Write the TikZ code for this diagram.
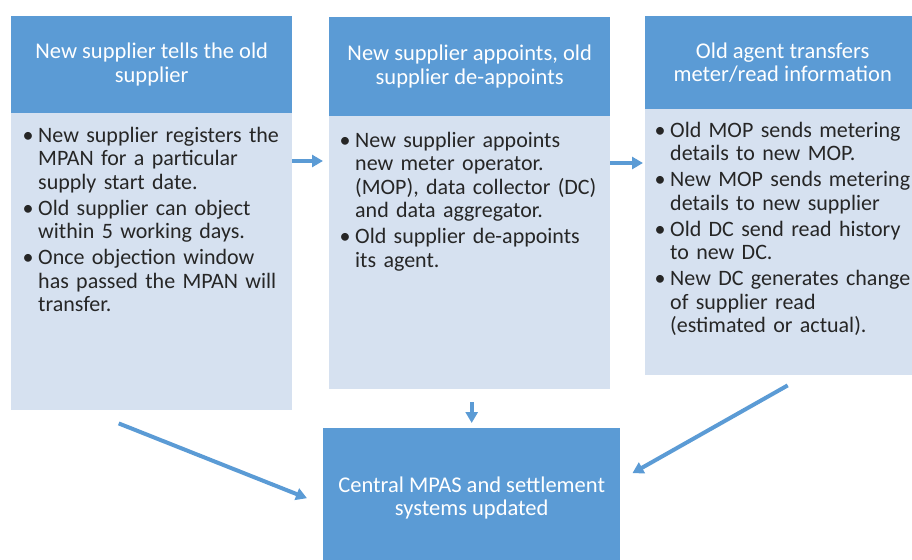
\documentclass[tikz,border=0pt]{standalone}
\usepackage{fontspec}
\setmainfont{Carlito}
\usetikzlibrary{arrows.meta}

\definecolor{headblue}{RGB}{91,155,213}
\definecolor{bodyblue}{RGB}{214,225,240}

\newcommand\bitem[1]{\par\noindent\hangindent=14pt\hangafter=1\makebox[14pt][l]{\hspace{-1.5pt}\textbullet}#1\par}

\tikzset{
    box/.style={rectangle, anchor=north west, inner sep=0pt},
    head/.style={box, fill=headblue, text=white, align=center,
        font=\fontsize{22.5}{23.5}\selectfont},
    body/.style={box, fill=bodyblue},
    bullets/.style={anchor=north west, inner sep=0pt, align=left, text=black!85,
        font=\fontsize{22}{23.5}\selectfont\setlength\parskip{2.5pt}},
    flow/.style={draw=headblue, line width=4pt, -{Triangle[length=11pt,width=12pt]}}
}

\begin{document}
\begin{tikzpicture}[x=1pt,y=-1pt]
    \useasboundingbox (0,0) rectangle (912,559);

    \node[head, minimum width=281pt, minimum height=97pt] (head1) at (11,16) {New supplier tells the old\\supplier};
    \node[body, minimum width=281pt, minimum height=297pt] (body1) at (11,113) {};
    \node[bullets, text width=300pt] (list1) at (24,116) {%
        \bitem{New supplier registers the\newline MPAN for a particular\newline supply start date.}
        \bitem{Old supplier can object\newline within 5 working days.}
        \bitem{Once objection window\newline has passed the MPAN will\newline transfer.}};

    \node[head, minimum width=281pt, minimum height=99pt] (head2) at (329,17) {New supplier appoints, old\\supplier de-appoints};
    \node[body, minimum width=281pt, minimum height=273pt] (body2) at (329,116) {};
    \node[bullets, text width=300pt] (list2) at (341,121) {%
        \bitem{New supplier appoints\newline new meter operator.\newline (MOP), data collector (DC)\newline and data aggregator.}
        \bitem{Old supplier de-appoints\newline its agent.}};

    \node[head, minimum width=275pt, minimum height=93pt] (head3) at (645,16) {Old agent transfers\\meter/read information};
    \node[body, minimum width=275pt, minimum height=266pt] (body3) at (645,109) {};
    \node[bullets, text width=300pt] (list3) at (656,111) {%
        \bitem{Old MOP sends metering\newline details to new MOP.}
        \bitem{New MOP sends metering\newline details to new supplier}
        \bitem{Old DC send read history\newline to new DC.}
        \bitem{New DC generates change\newline of supplier read\newline (estimated or actual).}};

    \node[head, minimum width=297pt, minimum height=140pt] (central) at (323,428) {Central MPAS and settlement\\systems updated};

    \draw[flow, shorten >=6pt] ([yshift=-48pt]body1.north east) -- ([yshift=-48pt]body1.north east -| body2.west);
    \draw[flow, shorten >=2pt] ([yshift=-47pt]body2.north east) -- ([yshift=-47pt]body2.north east -| body3.west);
    \draw[flow, shorten >=5pt] ([yshift=-13pt]body2.south -| central.north) -- (central.north);
    \draw[flow] ([xshift=-33pt,yshift=-13pt]body1.south) -- ([xshift=-16pt]central.west);
    \draw[flow] ([xshift=5pt,yshift=-10pt]body3.south) -- ([xshift=12pt,yshift=25pt]central.east);

\end{tikzpicture}
\end{document}
